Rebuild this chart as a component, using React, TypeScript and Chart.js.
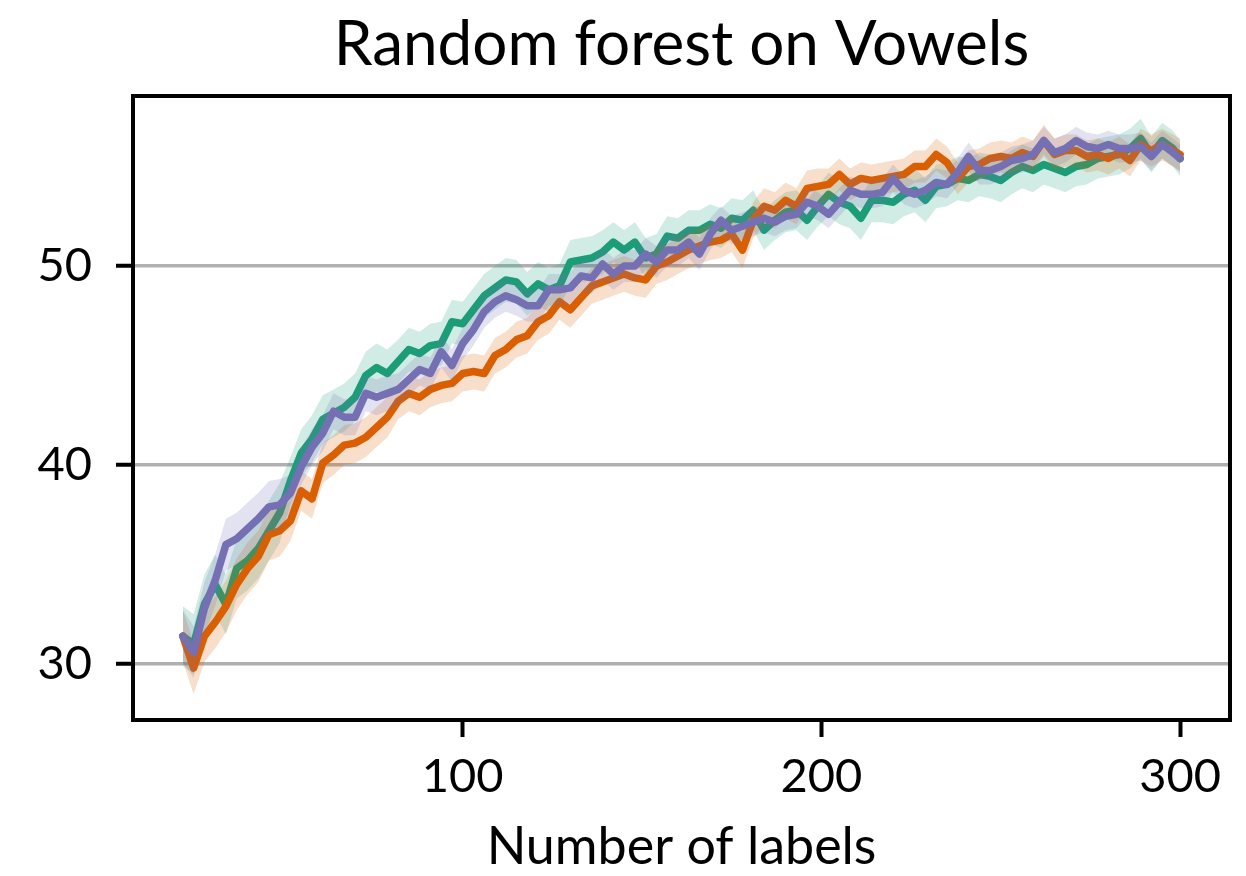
import React, { useEffect, useRef } from "react";
import { Chart, registerables } from "chart.js";

Chart.register(...registerables);

const xLabels = [22, 25, 28, 31, 34, 37, 40, 43, 46, 49, 52, 55, 58, 61, 64, 67, 70, 73, 76, 79, 82, 85, 88, 91, 94, 97, 100, 103, 106, 109, 112, 115, 118, 121, 124, 127, 130, 133, 136, 139, 142, 145, 148, 151, 154, 157, 160, 163, 166, 169, 172, 175, 178, 181, 184, 187, 190, 193, 196, 199, 202, 205, 208, 211, 214, 217, 220, 223, 226, 229, 232, 235, 238, 241, 244, 247, 250, 253, 256, 259, 262, 265, 268, 271, 274, 277, 280, 283, 286, 289, 292, 295, 298, 300];

const greenMean = [31.4, 31.0, 33.0, 34.0, 33.0, 34.8, 35.2, 35.8, 36.7, 37.6, 39.2, 40.6, 41.3, 42.3, 42.6, 42.9, 43.4, 44.5, 44.9, 44.6, 45.2, 45.8, 45.6, 46.0, 46.1, 47.2, 47.1, 47.8, 48.5, 48.9, 49.3, 49.2, 48.6, 49.1, 48.8, 49.0, 50.2, 50.3, 50.4, 50.7, 51.2, 50.8, 51.2, 50.4, 50.6, 51.5, 51.4, 51.8, 51.8, 52.1, 51.9, 52.4, 52.3, 52.8, 51.8, 52.3, 52.7, 52.8, 52.3, 53.0, 53.6, 53.2, 53.0, 52.4, 53.3, 53.3, 53.2, 53.6, 53.8, 53.3, 54.0, 54.1, 54.4, 54.3, 54.6, 54.5, 54.3, 54.7, 55.0, 54.8, 55.1, 54.9, 54.7, 55.0, 55.1, 55.4, 55.5, 55.6, 55.9, 56.4, 55.6, 56.3, 55.9, 55.4];

const orangeMean = [31.4, 29.8, 31.4, 32.1, 32.9, 34.0, 34.8, 35.4, 36.5, 36.7, 37.2, 38.7, 38.3, 40.1, 40.5, 41.0, 41.1, 41.4, 41.9, 42.4, 43.2, 43.6, 43.4, 43.8, 44.0, 44.1, 44.6, 44.7, 44.6, 45.5, 45.8, 46.3, 46.5, 47.2, 47.5, 48.2, 47.8, 48.4, 49.0, 49.2, 49.4, 49.6, 49.4, 49.3, 50.0, 50.2, 50.5, 50.8, 51.0, 51.2, 51.3, 51.6, 50.8, 52.3, 53.0, 52.8, 53.3, 53.0, 53.9, 54.0, 54.1, 54.6, 54.1, 54.4, 54.3, 54.4, 54.5, 54.6, 55.0, 55.0, 55.6, 55.2, 54.4, 55.0, 55.1, 55.4, 55.5, 55.4, 55.7, 55.5, 56.3, 55.6, 55.8, 55.8, 55.5, 55.6, 55.4, 55.7, 55.3, 56.1, 55.8, 56.1, 55.8, 55.6];

const purpleMean = [31.4, 30.6, 32.8, 34.2, 36.0, 36.3, 36.8, 37.3, 37.9, 38.0, 38.6, 39.9, 40.9, 41.6, 42.7, 42.4, 42.4, 43.6, 43.4, 43.6, 43.8, 44.3, 44.8, 44.6, 45.7, 45.0, 46.1, 46.8, 47.7, 48.2, 48.5, 48.3, 48.0, 48.0, 48.8, 48.8, 48.9, 49.5, 49.4, 50.1, 49.6, 50.0, 50.0, 50.6, 50.2, 50.8, 50.8, 51.2, 50.6, 51.6, 52.3, 51.8, 52.0, 52.2, 52.4, 52.2, 52.5, 52.6, 53.2, 53.0, 52.6, 53.2, 53.8, 53.6, 53.6, 53.7, 54.4, 53.8, 53.6, 53.8, 54.2, 54.1, 54.7, 55.5, 54.8, 54.8, 55.0, 55.3, 55.4, 55.6, 56.3, 55.7, 55.9, 56.3, 56.0, 55.9, 56.1, 55.9, 55.9, 56.0, 55.5, 56.1, 55.7, 55.4];

// half-width of the shaded band, one entry per block of 10 points
const greenSpread = [1.5, 1.2, 1.1, 1.1, 1.0, 1.0, 1.1, 1.1, 1.0, 0.9];
const orangeSpread = [1.3, 1.0, 0.9, 0.9, 0.9, 0.9, 0.8, 0.8, 0.8, 0.8];
const purpleSpread = [1.3, 0.9, 0.8, 0.8, 0.8, 0.7, 0.7, 0.7, 0.7, 0.7];

const yTickValues = [30, 40, 50];
const xTickValues = [100, 200, 300];

const titleText = "Random forest on Vowels";
const xTitleText = "Number of labels";

const FONT = "Lato, 'Open Sans', 'DejaVu Sans', sans-serif";

function pts(vals: number[]) {
  return vals.map((v, i) => ({ x: xLabels[i], y: v }));
}
function band(vals: number[], spread: number[], sign: number) {
  return vals.map((v, i) => ({ x: xLabels[i], y: v + sign * spread[Math.floor(i / 10)] }));
}

const framePlugin = {
  id: "frame",
  afterDatasetsDraw(chart: any) {
    const { ctx, chartArea } = chart;
    ctx.save();
    ctx.strokeStyle = "#000";
    ctx.lineWidth = 4;
    ctx.strokeRect(chartArea.left, chartArea.top, chartArea.right - chartArea.left, chartArea.bottom - chartArea.top);
    ctx.restore();
  },
  afterDraw(chart: any) {
    const { ctx, chartArea } = chart;
    ctx.save();
    ctx.fillStyle = "#000";
    ctx.font = `62px ${FONT}`;
    ctx.textAlign = "center";
    ctx.textBaseline = "alphabetic";
    ctx.fillText(titleText, (chartArea.left + chartArea.right) / 2, 65);
    ctx.restore();
  },
};

export default function App() {
  const ref = useRef<HTMLCanvasElement>(null);
  useEffect(() => {
    if (!ref.current) return;
    const series = [
      { mean: greenMean, spread: greenSpread, line: "#1b9e77", fill: "rgba(27,158,119,0.2)" },
      { mean: orangeMean, spread: orangeSpread, line: "#d95f02", fill: "rgba(217,95,2,0.2)" },
      { mean: purpleMean, spread: purpleSpread, line: "#7570b3", fill: "rgba(117,112,179,0.2)" },
    ];
    const datasets: any[] = [];
    let order = 20;
    series.forEach((s) => {
      datasets.push({
        data: band(s.mean, s.spread, -1),
        borderWidth: 0,
        borderColor: "transparent",
        pointRadius: 0,
        fill: false,
        order: order--,
      });
      datasets.push({
        data: band(s.mean, s.spread, 1),
        borderWidth: 0,
        borderColor: "transparent",
        backgroundColor: s.fill,
        pointRadius: 0,
        fill: "-1",
        order: order--,
      });
      datasets.push({
        data: pts(s.mean),
        borderColor: s.line,
        borderWidth: 7.5,
        borderJoinStyle: "round",
        borderCapStyle: "round",
        pointRadius: 0,
        fill: false,
        order: order--,
      });
    });

    const chart = new Chart(ref.current, {
      type: "line",
      data: { datasets },
      plugins: [framePlugin],
      options: {
        animation: false,
        responsive: false,
        devicePixelRatio: 1,
        layout: { padding: { top: 96, right: 16, left: 0, bottom: 0 } },
        plugins: {
          legend: { display: false },
          tooltip: { enabled: false },
          title: { display: false },
        },
        scales: {
          x: {
            type: "linear",
            min: 8.1,
            max: 313.9,
            afterBuildTicks: (s: any) => {
              s.ticks = xTickValues.map((v) => ({ value: v }));
            },
            afterFit: (s: any) => {
              s.height = 156;
            },
            grid: {
              drawOnChartArea: false,
              drawTicks: true,
              tickLength: 17,
              tickColor: "#000",
              tickWidth: 4,
            },
            border: { display: false },
            ticks: {
              color: "#000",
              padding: 12,
              font: { family: FONT, size: 47 },
              maxRotation: 0,
            },
            title: {
              display: true,
              text: xTitleText,
              color: "#000",
              font: { family: FONT, size: 52, lineHeight: 1.2 },
              padding: { top: 0, bottom: -2 },
            },
          },
          y: {
            type: "linear",
            min: 27.19,
            max: 58.54,
            afterBuildTicks: (s: any) => {
              s.ticks = yTickValues.map((v) => ({ value: v }));
            },
            afterFit: (s: any) => {
              s.width = 133;
            },
            grid: {
              color: "#b0b0b0",
              lineWidth: 3.5,
              drawTicks: true,
              tickLength: 17,
              tickColor: "#000",
              tickWidth: 4,
            },
            border: { display: false },
            ticks: {
              color: "#000",
              padding: 24,
              font: { family: FONT, size: 47 },
            },
          },
        },
      },
    });
    return () => chart.destroy();
  }, []);

  return (
    <div style={{ position: "fixed", left: 0, top: 0, width: 1246, height: 876, background: "#fff" }}>
      <canvas ref={ref} width={1246} height={876} style={{ width: 1246, height: 876 }} />
    </div>
  );
}
